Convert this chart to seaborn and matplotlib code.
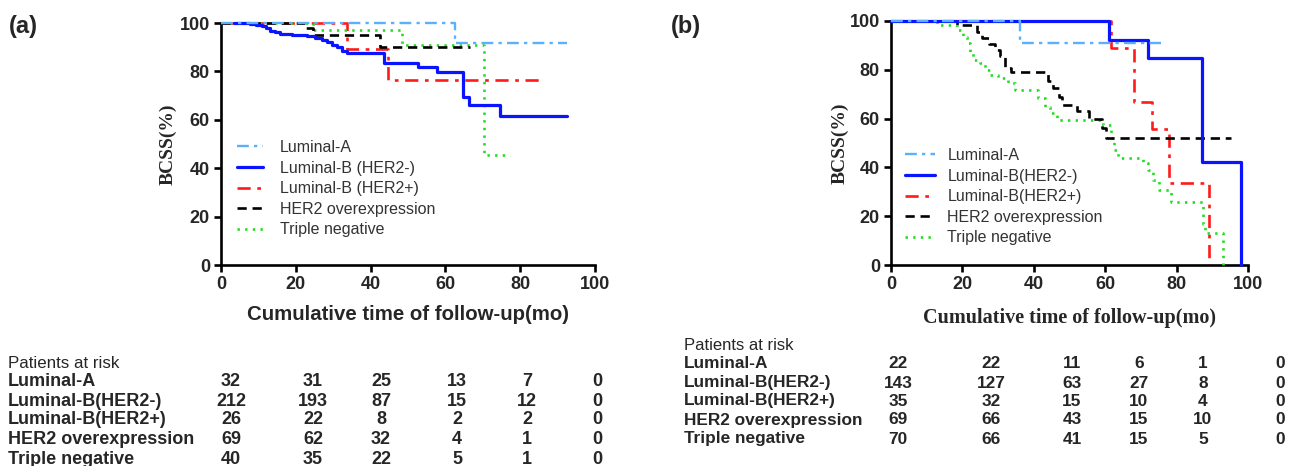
import matplotlib
matplotlib.use("Agg")
import matplotlib.pyplot as plt
import seaborn as sns

# ---------------- data: panel (a) ----------------
a_lumA_t = [0, 62.6, 92.4]
a_lumA_s = [100, 91.8, 91.8]

a_lumBneg_t = [3.4, 7.8, 9.3, 10.9, 12.0, 13.1, 14.4, 15.8, 18.9, 22.9, 25.1, 26.9,
               28.3, 29.6, 30.9, 32.3, 33.6, 43.7, 52.8, 57.7, 64.8, 66.4, 74.6, 92.4]
a_lumBneg_s = [100, 99.6, 99.2, 98.7, 98.0, 96.8, 96.2, 95.6, 95.0, 94.5, 93.8, 92.8,
               92.1, 91.0, 90.0, 88.6, 87.5, 83.6, 81.7, 79.6, 69.6, 66.1, 61.7, 61.7]

a_lumBpos_t = [0, 33.6, 44.6, 86.2]
a_lumBpos_s = [100, 89.1, 76.4, 76.4]

a_her2_t = [0, 22.5, 24.7, 42.5, 66.6]
a_her2_s = [100, 97.9, 95.0, 90.2, 90.2]

a_tn_t = [0, 24.7, 48.3, 70.3, 77.3]
a_tn_s = [100, 97.1, 90.9, 45.5, 45.5]

# ---------------- data: panel (b) ----------------
b_lumA_t = [0, 36.0, 75.7]
b_lumA_s = [100, 90.8, 90.8]

b_lumBneg_t = [0, 61.1, 72.0, 87.1, 98.1]
b_lumBneg_s = [100, 92.1, 84.7, 42.1, 0]

b_lumBpos_t = [0, 61.5, 68.0, 73.0, 78.0, 89.2]
b_lumBpos_s = [100, 89.0, 66.7, 55.7, 33.5, 0]

b_her2_t = [0, 18.5, 24.0, 25.5, 27.5, 29.0, 30.5, 32.0, 33.5, 44.0, 45.5, 47.0, 48.0,
            52.0, 55.5, 59.0, 60.3, 95.3]
b_her2_s = [100, 98.4, 95.5, 93.0, 90.5, 88.0, 85.5, 80.6, 79.0, 75.5, 72.5, 69.0, 65.7,
            63.3, 60.0, 56.0, 52.2, 52.2]

b_tn_t = [0, 13.0, 18.5, 20.2, 21.2, 22.1, 23.0, 24.9, 26.3, 27.7, 30.0, 32.8, 34.7,
          41.2, 43.1, 44.5, 46.4, 59.5, 61.5, 62.5, 63.6, 70.6, 72.0, 73.4, 75.0, 78.5,
          87.4, 88.0, 93.0]
b_tn_s = [100, 98.5, 96.3, 93.6, 90.9, 87.4, 84.0, 82.7, 79.9, 77.9, 76.8, 74.5, 71.7,
          68.3, 64.9, 62.2, 59.4, 57.4, 51.9, 47.1, 43.7, 41.7, 38.9, 34.8, 30.7, 25.9,
          17.0, 13.0, 0]

# ---------------- labels ----------------
ticks = [0, 20, 40, 60, 80, 100]
legend_a = ["Luminal-A", "Luminal-B (HER2-)", "Luminal-B (HER2+)",
            "HER2 overexpression", "Triple negative"]
legend_b = ["Luminal-A", "Luminal-B(HER2-)", "Luminal-B(HER2+)",
            "HER2 overexpression", "Triple negative"]
risk_rows = ["Luminal-A", "Luminal-B(HER2-)", "Luminal-B(HER2+)",
             "HER2 overexpression", "Triple negative"]

risk_a_lumA = [32, 31, 25, 13, 7, 0]
risk_a_lumBneg = [212, 193, 87, 15, 12, 0]
risk_a_lumBpos = [26, 22, 8, 2, 2, 0]
risk_a_her2 = [69, 62, 32, 4, 1, 0]
risk_a_tn = [40, 35, 22, 5, 1, 0]

risk_b_lumA = [22, 22, 11, 6, 1, 0]
risk_b_lumBneg = [143, 127, 63, 27, 8, 0]
risk_b_lumBpos = [35, 32, 15, 10, 4, 0]
risk_b_her2 = [69, 66, 43, 15, 10, 0]
risk_b_tn = [70, 66, 41, 15, 5, 0]

# ---------------- styles (drawing order via zorder) ----------------
styles = [
    dict(color="#5AB0FF", linestyle=(0, (5, 2.2, 1.4, 2.2)), linewidth=1.7, zorder=6),
    dict(color="#0A14FF", linestyle="-", linewidth=2.3, zorder=5),
    dict(color="#FF1A1A", linestyle=(0, (5, 2.5, 1.4, 2.5)), linewidth=1.9, zorder=2),
    dict(color="#000000", linestyle=(0, (3.5, 2.2)), linewidth=1.9, zorder=4),
    dict(color="#22DD22", linestyle=(0, (0.9, 2.0)), linewidth=1.9, zorder=3),
]

W, H = 1289, 466
sns.set_theme(style="ticks")
plt.rcParams["font.family"] = ["Liberation Sans", "DejaVu Sans"]
plt.rcParams["axes.edgecolor"] = "black"

fig = plt.figure(figsize=(W / 100, H / 100), dpi=100)
fig.patch.set_facecolor("white")


def px(x, y):
    return x / W, 1 - y / H


def draw_panel(ax, series, labels, xlab_family, xlab_coord, ylab_x, leg_anchor,
               hlen, hpad):
    for (t, s), lab, st in zip(series, labels, styles):
        sns.lineplot(x=t, y=s, ax=ax, drawstyle="steps-post", estimator=None,
                     sort=False, label=lab, clip_on=False, **st)
    ax.set_xlim(0, 100)
    ax.set_ylim(0, 100)
    ax.set_xticks(ticks)
    ax.set_yticks(ticks)
    ax.set_xticklabels([str(v) for v in ticks], fontsize=13, fontweight="bold")
    ax.set_yticklabels([str(v) for v in ticks], fontsize=13, fontweight="bold")
    for side in ("top", "right"):
        ax.spines[side].set_visible(False)
    for side in ("left", "bottom"):
        ax.spines[side].set_linewidth(1.9)
        ax.spines[side].set_color("black")
    ax.tick_params(direction="out", length=5, width=1.9, color="black", pad=3)
    ax.set_facecolor("white")
    ax.set_ylabel("BCSS(%)", family="Liberation Serif", fontweight="bold", fontsize=14)
    ax.yaxis.set_label_coords(ylab_x, 0.5)
    if xlab_family == "serif":
        ax.set_xlabel("Cumulative time of follow-up(mo)", family="Liberation Serif",
                      fontweight="bold", fontsize=14.5)
    else:
        ax.set_xlabel("Cumulative time of follow-up(mo)", family="Liberation Sans",
                      fontweight="bold", fontsize=14.7)
    ax.xaxis.set_label_coords(0.5, xlab_coord)
    leg = ax.legend(loc="upper left", bbox_to_anchor=px(*leg_anchor),
                    bbox_transform=fig.transFigure, frameon=False, fontsize=11.5,
                    handlelength=hlen, handletextpad=hpad, labelspacing=0.35,
                    borderpad=0, borderaxespad=0)
    for txt in leg.get_texts():
        txt.set_color("#333333")


ax_a = fig.add_axes([221 / W, (H - 265) / H, 374 / W, 242 / H])
ax_b = fig.add_axes([891 / W, (H - 265) / H, 357 / W, 244 / H])

draw_panel(ax_a,
           [(a_lumA_t, a_lumA_s), (a_lumBneg_t, a_lumBneg_s), (a_lumBpos_t, a_lumBpos_s),
            (a_her2_t, a_her2_s), (a_tn_t, a_tn_s)],
           legend_a, "sans", -0.165, -0.118, (237, 140), 1.65, 1.05)
draw_panel(ax_b,
           [(b_lumA_t, b_lumA_s), (b_lumBneg_t, b_lumBneg_s), (b_lumBpos_t, b_lumBpos_s),
            (b_her2_t, b_her2_s), (b_tn_t, b_tn_s)],
           legend_b, "serif", -0.176, -0.12, (905, 148), 1.85, 0.8)

fig.text(*px(9, 26), "(a)", fontsize=17, fontweight="bold", va="center", ha="left")
fig.text(*px(671, 26), "(b)", fontsize=17, fontweight="bold", va="center", ha="left")


def draw_table(x_label, cols_x, head_y, rows_y, tables, size, head_size):
    fig.text(*px(x_label, head_y), "Patients at risk", fontsize=head_size,
             va="center", ha="left")
    for name, counts, y in zip(risk_rows, tables, rows_y):
        fig.text(*px(x_label, y), name, fontsize=size, fontweight="bold",
                 va="center", ha="left")
        for c, x in zip(counts, cols_x):
            fig.text(*px(x, y), str(c), fontsize=size, fontweight="bold",
                     va="center", ha="center")


draw_table(8, [231, 313, 381, 457, 527, 597], 364, [382, 401, 420, 439, 459],
           [risk_a_lumA, risk_a_lumBneg, risk_a_lumBpos, risk_a_her2, risk_a_tn],
           13, 12.2)
draw_table(684, [898, 991, 1072, 1139, 1203, 1280], 345, [364, 383, 401, 420, 439],
           [risk_b_lumA, risk_b_lumBneg, risk_b_lumBpos, risk_b_her2, risk_b_tn],
           12.4, 12)

fig.savefig("out.png", dpi=100, facecolor="white")
